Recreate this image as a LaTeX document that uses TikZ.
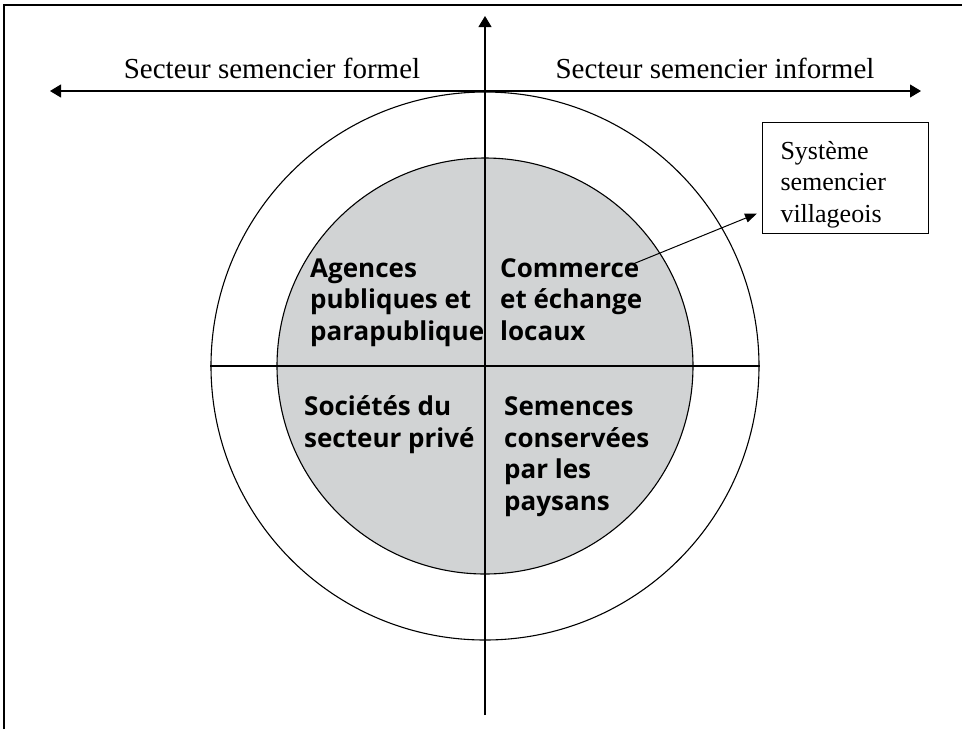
\documentclass[tikz,border=0pt]{standalone}
\usepackage{fontspec}
\setmainfont{Liberation Serif}
\newfontfamily\quadfont{Open Sans}
\usetikzlibrary{positioning, calc, arrows.meta}

\definecolor{seedgrey}{HTML}{D1D3D4}

\tikzset{
    axisline/.style = {line width = 1.1pt},
    ring/.style = {shape = circle, draw = black, line width = 1.1pt, inner sep = 0pt},
    quadrant/.style = {anchor = base west, align = left, inner sep = 0pt,
        font = \quadfont\bfseries\fontsize{26}{31.5}\selectfont},
    sector/.style = {anchor = base, inner sep = 0pt, font = \fontsize{29}{30}\selectfont},
    villagebox/.style = {draw = black, line width = 1pt, align = left, text width = 130pt,
        inner xsep = 18pt, minimum height = 111pt, font = \fontsize{26}{31.5}\selectfont}
}

\begin{document}
\begin{tikzpicture}[x = 1pt, y = -1pt]
    \useasboundingbox (0, 0) rectangle (962, 729);

    % frame
    \draw [line width = 1.6pt] (4, 729) -- (4, 5) -- (962, 5);

    \coordinate (centre) at (485, 366);
    \coordinate (west end) at (50, 91);
    \coordinate (east end) at (921, 91);
    \coordinate (top end) at (485, 16);
    \coordinate (bottom end) at (485, 715);

    \node [ring, minimum size = 548pt] (outer) at (centre) {};
    \node [ring, fill = seedgrey, minimum size = 416pt] (inner) at (centre) {};

    \draw [axisline, line width = 1.4pt] (outer.west) -- (outer.east);
    \draw [axisline, -{Triangle[length = 11pt, width = 13pt]}] (bottom end) -- (top end);
    \draw [axisline, {Triangle[length = 11pt, width = 13pt]}-{Triangle[length = 11pt, width = 13pt]}] (west end) -- (east end);

    \node [sector] (formal) at (272, 78) {Secteur semencier formel};
    \node [sector] (informal) at (715, 78) {Secteur semencier informel};

    % base anchor sits on the last line
    \node [quadrant] (agencies) at (310, 340) {Agences\\publiques et\\parapublique};
    \node [quadrant] (commerce) at (500, 340) {Commerce\\et échange\\locaux};
    \node [quadrant] (companies) at (304, 447) {Sociétés du\\secteur privé};
    \node [quadrant] (farmers) at (504, 510) {Semences\\conservées\\par les\\paysans};

    \node [villagebox] (village) at (845.5, 177.5) {\rule{0pt}{32pt}Système\\semencier\\villageois};

    \coordinate (commerce tail) at (633, 264);
    \draw [line width = 1pt, -{Triangle[length = 12pt, width = 9pt]}] (commerce tail) -- ($(village.south west) + (-5, -20)$);
\end{tikzpicture}
\end{document}
